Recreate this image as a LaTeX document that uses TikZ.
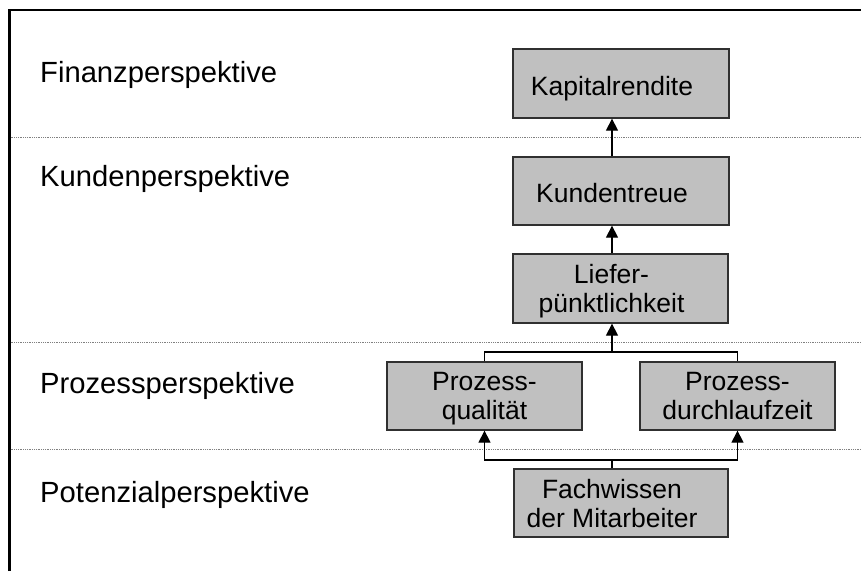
\documentclass[tikz,border=0pt]{standalone}
\usepackage{fontspec}
\setmainfont{Liberation Sans}
\usetikzlibrary{arrows.meta}
\definecolor{bscgray}{HTML}{C0C0C0}
\definecolor{bscline}{HTML}{303030}

\begin{document}
\begin{tikzpicture}[x=1pt,y=-1pt,
  persp/.style={anchor=base west,inner sep=0pt,font=\fontsize{29.2}{35}\selectfont},
  bscbox/.style={draw=bscline,fill=bscgray,line width=1.3pt,inner sep=0pt,
    text depth=0pt,align=center,font=\fontsize{26.5}{29}\selectfont},
  oneline/.style={text height=23pt},
  sep/.style={gray,line width=0.8pt,densely dotted},
  link/.style={line width=1.3pt},
  arr/.style={link,-{Triangle[length=12pt,width=12pt]}}]
  \useasboundingbox (0,0) rectangle (861,571);
  % frame and layers
  \draw[line width=2.2pt] (9.5,571) -- (9.5,10) -- (861,10);
  \draw[sep] (10.5,137) -- (861,137);
  \draw[sep] (10.5,342) -- (861,342);
  \draw[sep] (10.5,449) -- (861,449);
  \node[persp] (finanz) at (40,82) {Finanzperspektive};
  \node[persp] (kunden) at (40,186) {Kundenperspektive};
  \node[persp] (prozess) at (40,393) {Prozessperspektive};
  \node[persp] (potenzial) at (40,502) {Potenzialperspektive};
  % boxes
  \node[bscbox,oneline,minimum width=216,minimum height=69] (kap) at (621,83.5) {\hspace*{-18pt}Kapitalrendite};
  \node[bscbox,oneline,minimum width=216,minimum height=68] (kun) at (621,191) {\hspace*{-18pt}Kundentreue};
  \node[bscbox,minimum width=215,minimum height=69] (lief) at (620.5,288.5)
    {\hspace*{-18pt}Liefer-\\\hspace*{-18pt}pünktlichkeit};
  \node[bscbox,minimum width=195,minimum height=68] (pq) at (484.5,396) {Prozess-\\qualität};
  \node[bscbox,minimum width=195,minimum height=68] (pd) at (737.5,396) {Prozess-\\durchlaufzeit};
  \node[bscbox,minimum width=214,minimum height=68] (fach) at (621,503)
    {\hspace*{-18pt}Fachwissen\\\hspace*{-18pt}der Mitarbeiter};
  \coordinate (jtop) at (612,352);
  \coordinate (jbot) at (612,460);
  % connectors
  \draw[arr] (kun.north -| jtop) -- (kap.south -| jtop);
  \draw[arr] (lief.north -| jtop) -- (kun.south -| jtop);
  \draw[arr] (jtop) -- (lief.south -| jtop);
  \draw[link] (pq.north) |- (jtop) -| (pd.north);
  \draw[link] (fach.north -| jbot) -- (jbot);
  \draw[arr] (jbot) -| (pq.south);
  \draw[arr] (jbot) -| (pd.south);
\end{tikzpicture}
\end{document}
